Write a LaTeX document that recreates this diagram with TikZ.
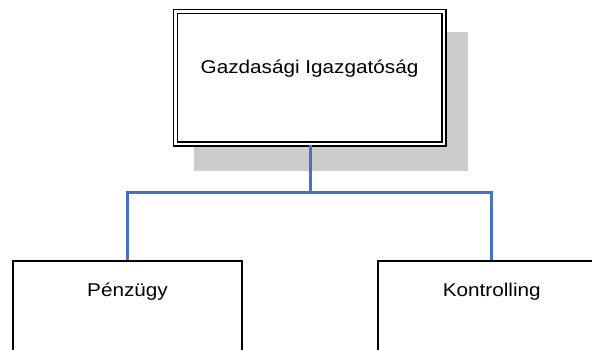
\documentclass[tikz,border=0pt]{standalone}
\usepackage{fontspec}
\setmainfont{Liberation Sans}
\definecolor{conn}{HTML}{4472C4}
\definecolor{shadowgray}{HTML}{CCCCCC}
\begin{document}
\begin{tikzpicture}[x=1pt,y=-1pt,
  boxtxt/.style={anchor=base,inner sep=0pt,font=\fontsize{18.5}{22}\selectfont},
  headbox/.style={draw=black,line width=1.5pt,double=white,double distance=2.5pt,fill=white,
    inner sep=0pt,minimum width=268.5pt,minimum height=132.5pt},
  unitbox/.style={draw=black,line width=2pt,fill=white,inner sep=0pt,
    minimum width=228.4pt,minimum height=120pt},
  link/.style={draw=conn,line width=3pt}]
\useasboundingbox (0,0) rectangle (592,349);
\clip (0,0) rectangle (592,349);
\fill[fill=shadowgray] (194,32) rectangle (468,171);
\node[headbox] (top) at (309.5,77.8) {};
\node[boxtxt] (toptext) at (309.5,73) {\scalebox{1.12}[1]{Gazdasági Igazgatóság}};
\node[unitbox,anchor=north] (left) at (127.5,260) {};
\node[unitbox,anchor=north] (right) at (491.8,260) {};
\node[boxtxt] (lefttext) at (127.5,296.5) {\scalebox{1.12}[1]{Pénzügy}};
\node[boxtxt] (righttext) at (491.8,296.5) {\scalebox{1.12}[1]{Kontrolling}};
\coordinate (bus) at (310,192.2);
\draw[link] (top.south -| bus) -- (bus) -| (left.north);
\draw[link] (bus) -| (right.north);
\end{tikzpicture}
\end{document}
